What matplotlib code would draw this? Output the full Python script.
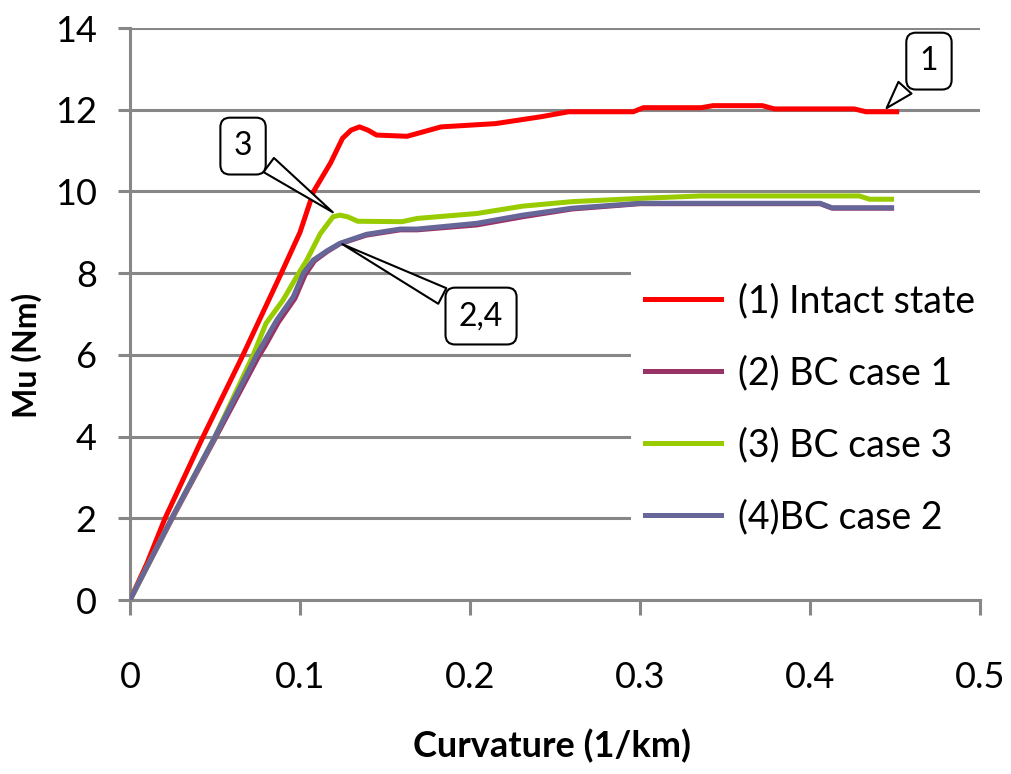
import matplotlib
matplotlib.use("Agg")
import matplotlib.pyplot as plt

# ---- data ----
x_red = [0, 0.01, 0.0206, 0.043, 0.0665, 0.089, 0.1, 0.108, 0.118, 0.125, 0.13, 0.135, 0.14, 0.145,
         0.163, 0.183, 0.215, 0.242, 0.258, 0.296, 0.302, 0.336, 0.343, 0.372, 0.379, 0.426, 0.433, 0.451]
y_red = [0, 0.9, 2.0, 4.0, 6.0, 8.0, 9.0, 10.0, 10.7, 11.3, 11.5, 11.58, 11.5, 11.38,
         11.35, 11.58, 11.66, 11.83, 11.95, 11.95, 12.05, 12.05, 12.1, 12.1, 12.02, 12.02, 11.95, 11.95]

x_green = [0, 0.0245, 0.05, 0.0725, 0.08, 0.09, 0.098, 0.104, 0.112, 0.1194, 0.1235, 0.128, 0.134,
           0.16, 0.169, 0.204, 0.231, 0.26, 0.3, 0.336, 0.429, 0.435, 0.448]
y_green = [0, 2.0, 4.0, 6.0, 6.77, 7.34, 7.91, 8.32, 8.97, 9.38, 9.42, 9.38, 9.27,
           9.26, 9.34, 9.46, 9.64, 9.75, 9.83, 9.89, 9.89, 9.81, 9.81]

x_blue = [0, 0.0245, 0.05, 0.0745, 0.0784, 0.0863, 0.096, 0.102, 0.1078, 0.116, 0.1235, 0.139,
          0.159, 0.169, 0.204, 0.231, 0.26, 0.3, 0.406, 0.413, 0.448]
y_blue = [0, 2.0, 4.0, 6.0, 6.28, 6.85, 7.42, 8.0, 8.32, 8.55, 8.73, 8.95,
          9.08, 9.08, 9.22, 9.42, 9.59, 9.71, 9.71, 9.6, 9.6]

x_purple = [0, 0.0245, 0.05, 0.0755, 0.0795, 0.0873, 0.097, 0.103, 0.1085, 0.116, 0.1235, 0.139,
            0.159, 0.169, 0.204, 0.231, 0.26, 0.3, 0.406, 0.413, 0.448]
y_purple = [0, 1.97, 3.95, 5.95, 6.22, 6.8, 7.38, 7.96, 8.3, 8.53, 8.72, 8.93,
            9.06, 9.06, 9.18, 9.38, 9.57, 9.7, 9.7, 9.59, 9.59]

labels = ["(1) Intact state", "(2) BC case 1", "(3) BC case 3", "(4)BC case 2"]
colors = ["#FF0000", "#993366", "#99CC00", "#666699"]

xticks = [0, 0.1, 0.2, 0.3, 0.4, 0.5]
xticklabels = ["0", "0.1", "0.2", "0.3", "0.4", "0.5"]
yticks = [0, 2, 4, 6, 8, 10, 12, 14]

plt.rcParams['font.family'] = ['Lato', 'DejaVu Sans']
grid_c = "#878787"

fig = plt.figure(figsize=(10.11, 7.74), dpi=100)
ax = fig.add_axes([0.1286, 0.2248, 0.8407, 0.739])

lw = 3.6
ax.plot(x_red, y_red, color=colors[0], lw=lw, label=labels[0], zorder=3)
ax.plot(x_purple, y_purple, color=colors[1], lw=lw, label=labels[1], zorder=3)
ax.plot(x_green, y_green, color=colors[2], lw=lw, label=labels[2], zorder=3)
ax.plot(x_blue, y_blue, color=colors[3], lw=lw, label=labels[3], zorder=3)

ax.set_xlim(0, 0.5)
ax.set_ylim(0, 14)
ax.set_xticks(xticks)
ax.set_xticklabels(xticklabels)
ax.set_yticks(yticks)
ax.yaxis.grid(True, color=grid_c, lw=2.2, zorder=0)
ax.set_axisbelow(True)
for s in ["top", "right"]:
    ax.spines[s].set_visible(False)
for s in ["left", "bottom"]:
    ax.spines[s].set_color(grid_c)
    ax.spines[s].set_linewidth(2.2)
ax.tick_params(axis='both', colors=grid_c, width=2.2, labelcolor='black', labelsize=26)
ax.tick_params(axis='y', length=9, pad=15)
ax.tick_params(axis='x', length=11, pad=33)

ax.set_xlabel("Curvature (1/km)", fontsize=26, fontweight='bold')
ax.set_ylabel("Mu (Nm)", fontsize=23, fontweight='bold')
ax.xaxis.set_label_coords(0.497, -0.225)
ax.yaxis.set_label_coords(-0.1035, 0.427)

leg = ax.legend(loc='center left', bbox_to_anchor=(0.59, 0.333), fontsize=27,
                frameon=True, facecolor='white', edgecolor='none', framealpha=1,
                handlelength=2.05, handletextpad=0.43, labelspacing=0.96,
                borderaxespad=0, borderpad=0.35, fancybox=False)
leg.set_zorder(5)

bbox_kw = dict(boxstyle='round,pad=0.42,rounding_size=0.3', fc='white', ec='black', lw=1.5)
arrow_kw = dict(arrowstyle='wedge,tail_width=0.55,shrink_factor=0.5', fc='white', ec='black', lw=1.5)

ax.annotate("1", xy=(0.444, 11.99), xytext=(0.470, 13.19), fontsize=23,
            ha='center', va='center', bbox=bbox_kw, arrowprops=arrow_kw, zorder=6,
            annotation_clip=False)
ax.annotate("3", xy=(0.1206, 9.45), xytext=(0.0665, 11.11), fontsize=23,
            ha='center', va='center', bbox=bbox_kw, arrowprops=arrow_kw, zorder=6)
ax.annotate("2,4", xy=(0.1235, 8.74), xytext=(0.2065, 6.95), fontsize=23,
            ha='center', va='center', bbox=bbox_kw, arrowprops=arrow_kw, zorder=6)

fig.savefig("out.png", dpi=100)
